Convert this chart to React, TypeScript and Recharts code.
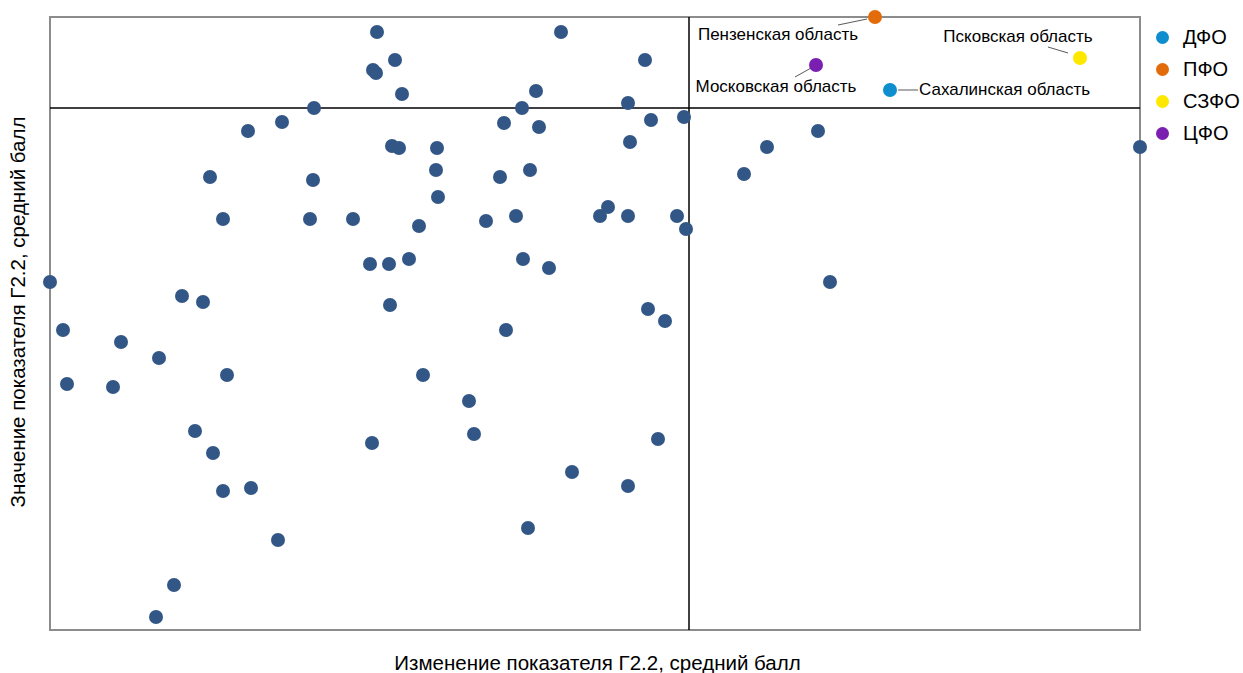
import React from 'react';
import { ScatterChart, Scatter, XAxis, YAxis, ReferenceLine, ReferenceArea } from 'recharts';

// Изменение показателя (x) и значение показателя (y), в условных единицах
const regionX = [327, 511, 345, 323, 326, 595, 352, 486, 264, 472, 578, 232, 198, 454, 489, 601, 634, 342, 349, 387,
  580, 717, 768, 1090, 160, 263, 386, 450, 480, 694, 388, 173, 260, 303, 369, 436, 466, 550, 558, 578,
  627, 636, 320, 339, 359, 473, 499, 0, 780, 132, 153, 340, 598, 615, 13, 456, 71, 109, 17, 63,
  177, 373, 419, 145, 424, 322, 608, 163, 522, 578, 173, 201, 478, 228, 124, 106];
const regionY = [598, 598, 570, 560, 557, 570, 536, 539, 522, 522, 527, 508, 499, 507, 503, 510, 513, 484, 482, 482,
  488, 483, 499, 483, 453, 450, 460, 453, 460, 456, 433, 411, 411, 411, 404, 409, 414, 414, 423, 414,
  414, 401, 366, 366, 371, 371, 362, 348, 348, 334, 328, 325, 321, 309, 300, 300, 288, 272, 246, 243,
  255, 255, 229, 199, 196, 187, 191, 177, 158, 144, 139, 142, 102, 90, 45, 13];

const districts = ['ДФО', 'ПФО', 'СЗФО', 'ЦФО'];
const districtColors = ['#0E8DCF', '#E36C0A', '#FFE800', '#7B1FB0'];

const highlightNames = ['Сахалинская область', 'Пензенская область', 'Псковская область', 'Московская область'];
const highlightX = [840, 825, 1030, 766];
const highlightY = [540, 613, 572, 565];

const xMid = 639;
const yMid = 522;

const points = regionX.map((x, i) => ({ x, y: regionY[i] }));

// смещения подписей: [линия от, линия до, текст, якорь]
const labelPos: any = {
  'Сахалинская область': { l: [8, 0, 28, 0], t: [29, 1], a: 'start' },
  'Пензенская область': { l: [-8, 2, -37, 8], t: [-97, 19], a: 'middle' },
  'Псковская область': { l: [-12, -5, -32, -11], t: [-62, -20], a: 'middle' },
  'Московская область': { l: [-5, 3, -21, 12], t: [-40, 23], a: 'middle' },
};

const font = '"Liberation Sans", Arial, sans-serif';

const Dot = (p: any) => <circle cx={p.cx} cy={p.cy} r={7} fill="#325786" />;

const makeShape = (color: string, name: string) => (p: any) => {
  const o = labelPos[name];
  return (
    <g>
      <line x1={p.cx + o.l[0]} y1={p.cy + o.l[1]} x2={p.cx + o.l[2]} y2={p.cy + o.l[3]} stroke="#595959" strokeWidth={1} />
      <circle cx={p.cx} cy={p.cy} r={7} fill={color} />
      <text x={p.cx + o.t[0]} y={p.cy + o.t[1]} textAnchor={o.a} dominantBaseline="middle"
        fontSize={17} fontFamily={font} fill="#000">{name}</text>
    </g>
  );
};

export default function App() {
  return (
    <div style={{ position: 'absolute', left: 0, top: 0, width: 1243, height: 673, background: '#fff', fontFamily: font }}>
      <ScatterChart width={1243} height={673} margin={{ top: 17, right: 103, bottom: 43, left: 50 }}>
        <XAxis type="number" dataKey="x" domain={[0, 1090]} hide />
        <YAxis type="number" dataKey="y" domain={[0, 613]} hide />
        <ReferenceArea x1={0} x2={1090} y1={0} y2={613} fill="none" stroke="#8c8c8c" strokeWidth={2} />
        <ReferenceLine x={xMid} stroke="#000" strokeWidth={1.5} />
        <ReferenceLine y={yMid} stroke="#000" strokeWidth={1.5} />
        <Scatter data={points} shape={Dot} isAnimationActive={false} />
        {highlightNames.map((name, i) => (
          <Scatter key={name} data={[{ x: highlightX[i], y: highlightY[i] }]}
            shape={makeShape(districtColors[i], name)} isAnimationActive={false} />
        ))}
      </ScatterChart>

      <div style={{ position: 'absolute', left: 1156, top: 21 }}>
        {districts.map((d, i) => (
          <div key={d} style={{ display: 'flex', alignItems: 'center', height: 32, fontSize: 20 }}>
            <span style={{ width: 13, height: 13, borderRadius: '50%', background: districtColors[i], marginRight: 14, display: 'inline-block' }} />
            {d}
          </div>
        ))}
      </div>

      <div style={{ position: 'absolute', left: 0, width: 1195, top: 651, textAlign: 'center', fontSize: 20.5 }}>
        Изменение показателя Г2.2, средний балл
      </div>
      <div style={{ position: 'absolute', left: 18, top: 312, width: 0, height: 0 }}>
        <div style={{ position: 'absolute', transform: 'translate(-50%, -50%) rotate(-90deg)', whiteSpace: 'nowrap', fontSize: 20.5 }}>
          Значение показателя Г2.2, средний балл
        </div>
      </div>
    </div>
  );
}
